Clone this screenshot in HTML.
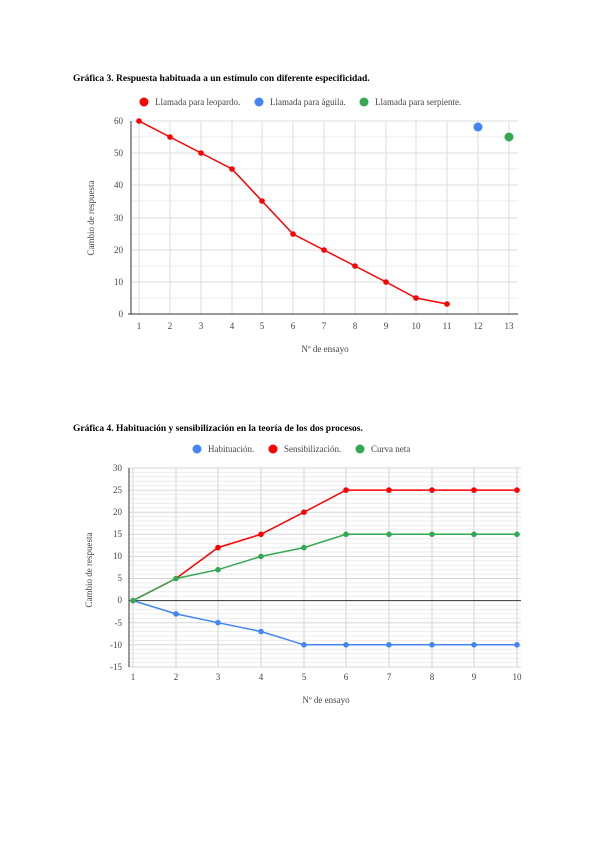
<!DOCTYPE html>
<html><head><meta charset="utf-8"><style>
body{margin:0;background:#fff}
svg{display:block;font-family:"Liberation Serif",serif}
</style></head><body>
<svg width="600" height="848" viewBox="0 0 600 848" xmlns="http://www.w3.org/2000/svg">
<rect width="600" height="848" fill="#fff"/>
<text x="73" y="81" font-size="9.5" font-weight="bold" fill="#000">Gráfica 3. Respuesta habituada a un estímulo con diferente especificidad.</text>
<g font-size="9" fill="#444">
<circle cx="144" cy="102" r="4.5" fill="#f00"/><text x="155" y="105">Llamada para leopardo.</text>
<circle cx="259" cy="102" r="4.5" fill="#4285f4"/><text x="270" y="105">Llamada para águila.</text>
<circle cx="364" cy="102" r="4.5" fill="#34a853"/><text x="375" y="105">Llamada para serpiente.</text>
</g>
<g stroke="#eee" stroke-width="1">
<line x1="131" x2="518" y1="137" y2="137"/><line x1="131" x2="518" y1="169" y2="169"/><line x1="131" x2="518" y1="201" y2="201"/><line x1="131" x2="518" y1="234" y2="234"/><line x1="131" x2="518" y1="266" y2="266"/><line x1="131" x2="518" y1="298" y2="298"/>
</g>
<g stroke="#ddd" stroke-width="1">
<line x1="131" x2="518" y1="121" y2="121"/><line x1="131" x2="518" y1="153" y2="153"/><line x1="131" x2="518" y1="185" y2="185"/><line x1="131" x2="518" y1="218" y2="218"/><line x1="131" x2="518" y1="250" y2="250"/><line x1="131" x2="518" y1="282" y2="282"/>
<line x1="139" x2="139" y1="121" y2="314"/><line x1="170" x2="170" y1="121" y2="314"/><line x1="201" x2="201" y1="121" y2="314"/><line x1="232" x2="232" y1="121" y2="314"/><line x1="262" x2="262" y1="121" y2="314"/><line x1="293" x2="293" y1="121" y2="314"/><line x1="324" x2="324" y1="121" y2="314"/><line x1="355" x2="355" y1="121" y2="314"/><line x1="386" x2="386" y1="121" y2="314"/><line x1="416" x2="416" y1="121" y2="314"/><line x1="447" x2="447" y1="121" y2="314"/><line x1="478" x2="478" y1="121" y2="314"/><line x1="509" x2="509" y1="121" y2="314"/>
</g>
<line x1="131" x2="131" y1="121" y2="314" stroke="#333"/>
<line x1="128" x2="518" y1="314" y2="314" stroke="#333"/>
<g font-size="9" fill="#444" text-anchor="end">
<text x="123" y="124">60</text><text x="123" y="156">50</text><text x="123" y="188">40</text><text x="123" y="221">30</text><text x="123" y="253">20</text><text x="123" y="285">10</text><text x="123" y="317">0</text>
</g>
<g font-size="9" fill="#444" text-anchor="middle">
<text x="139" y="329">1</text><text x="170" y="329">2</text><text x="201" y="329">3</text><text x="232" y="329">4</text><text x="262" y="329">5</text><text x="293" y="329">6</text><text x="324" y="329">7</text><text x="355" y="329">8</text><text x="386" y="329">9</text><text x="416" y="329">10</text><text x="447" y="329">11</text><text x="478" y="329">12</text><text x="509" y="329">13</text>
<text x="325" y="352">Nº de ensayo</text>
<text transform="translate(94,218) rotate(-90)">Cambio de respuesta</text>
</g>
<polyline fill="none" stroke="#f00" stroke-width="1.5" points="139,121 170,137 201,153 232,169 262,201 293,234 324,250 355,266 386,282 416,298 447,304"/>
<g fill="#f00"><circle cx="139" cy="121" r="2.8"/><circle cx="170" cy="137" r="2.8"/><circle cx="201" cy="153" r="2.8"/><circle cx="232" cy="169" r="2.8"/><circle cx="262" cy="201" r="2.8"/><circle cx="293" cy="234" r="2.8"/><circle cx="324" cy="250" r="2.8"/><circle cx="355" cy="266" r="2.8"/><circle cx="386" cy="282" r="2.8"/><circle cx="416" cy="298" r="2.8"/><circle cx="447" cy="304" r="2.8"/></g>
<circle cx="478" cy="127" r="4.5" fill="#4285f4"/>
<circle cx="509" cy="137" r="4.5" fill="#34a853"/>

<text x="73" y="431" font-size="9.5" font-weight="bold" fill="#000">Gráfica 4. Habituación y sensibilización en la teoría de los dos procesos.</text>
<g font-size="9" fill="#444">
<circle cx="197" cy="449" r="4.5" fill="#4285f4"/><text x="208" y="452">Habituación.</text>
<circle cx="273" cy="449" r="4.5" fill="#f00"/><text x="284" y="452">Sensibilización.</text>
<circle cx="360" cy="449" r="4.5" fill="#34a853"/><text x="371" y="452">Curva neta</text>
</g>
<g stroke="#eee" stroke-width="1" id="minor"></g>
<g stroke="#ececec">
<line x1="129" x2="521" y1="472.4" y2="472.4"/><line x1="129" x2="521" y1="476.8" y2="476.8"/><line x1="129" x2="521" y1="481.3" y2="481.3"/><line x1="129" x2="521" y1="485.7" y2="485.7"/>
<line x1="129" x2="521" y1="494.5" y2="494.5"/><line x1="129" x2="521" y1="498.9" y2="498.9"/><line x1="129" x2="521" y1="503.4" y2="503.4"/><line x1="129" x2="521" y1="507.8" y2="507.8"/>
<line x1="129" x2="521" y1="516.6" y2="516.6"/><line x1="129" x2="521" y1="521" y2="521"/><line x1="129" x2="521" y1="525.5" y2="525.5"/><line x1="129" x2="521" y1="529.9" y2="529.9"/>
<line x1="129" x2="521" y1="538.7" y2="538.7"/><line x1="129" x2="521" y1="543.1" y2="543.1"/><line x1="129" x2="521" y1="547.6" y2="547.6"/><line x1="129" x2="521" y1="552" y2="552"/>
<line x1="129" x2="521" y1="560.8" y2="560.8"/><line x1="129" x2="521" y1="565.2" y2="565.2"/><line x1="129" x2="521" y1="569.7" y2="569.7"/><line x1="129" x2="521" y1="574.1" y2="574.1"/>
<line x1="129" x2="521" y1="582.9" y2="582.9"/><line x1="129" x2="521" y1="587.3" y2="587.3"/><line x1="129" x2="521" y1="591.8" y2="591.8"/><line x1="129" x2="521" y1="596.2" y2="596.2"/>
<line x1="129" x2="521" y1="605" y2="605"/><line x1="129" x2="521" y1="609.4" y2="609.4"/><line x1="129" x2="521" y1="613.9" y2="613.9"/><line x1="129" x2="521" y1="618.3" y2="618.3"/>
<line x1="129" x2="521" y1="627.1" y2="627.1"/><line x1="129" x2="521" y1="631.5" y2="631.5"/><line x1="129" x2="521" y1="636" y2="636"/><line x1="129" x2="521" y1="640.4" y2="640.4"/>
<line x1="129" x2="521" y1="649.2" y2="649.2"/><line x1="129" x2="521" y1="653.6" y2="653.6"/><line x1="129" x2="521" y1="658.1" y2="658.1"/><line x1="129" x2="521" y1="662.5" y2="662.5"/>
</g>
<g stroke="#d6d6d6">
<line x1="129" x2="521" y1="468" y2="468"/><line x1="129" x2="521" y1="490.1" y2="490.1"/><line x1="129" x2="521" y1="512.2" y2="512.2"/><line x1="129" x2="521" y1="534.3" y2="534.3"/><line x1="129" x2="521" y1="556.4" y2="556.4"/><line x1="129" x2="521" y1="578.5" y2="578.5"/><line x1="129" x2="521" y1="622.7" y2="622.7"/><line x1="129" x2="521" y1="644.8" y2="644.8"/><line x1="129" x2="521" y1="667" y2="667"/>
<line x1="133" x2="133" y1="468" y2="667"/><line x1="176" x2="176" y1="468" y2="667"/><line x1="218" x2="218" y1="468" y2="667"/><line x1="261" x2="261" y1="468" y2="667"/><line x1="304" x2="304" y1="468" y2="667"/><line x1="346" x2="346" y1="468" y2="667"/><line x1="389" x2="389" y1="468" y2="667"/><line x1="432" x2="432" y1="468" y2="667"/><line x1="474" x2="474" y1="468" y2="667"/><line x1="517" x2="517" y1="468" y2="667"/>
</g>
<line x1="129" x2="521" y1="600.6" y2="600.6" stroke="#333"/>
<line x1="129" x2="129" y1="468" y2="667" stroke="#333"/>
<g font-size="9" fill="#444" text-anchor="end">
<text x="122" y="471">30</text><text x="122" y="493">25</text><text x="122" y="515">20</text><text x="122" y="537">15</text><text x="122" y="559">10</text><text x="122" y="581">5</text><text x="122" y="603">0</text><text x="122" y="626">-5</text><text x="122" y="648">-10</text><text x="122" y="670">-15</text>
</g>
<g font-size="9" fill="#444" text-anchor="middle">
<text x="133" y="680">1</text><text x="176" y="680">2</text><text x="218" y="680">3</text><text x="261" y="680">4</text><text x="304" y="680">5</text><text x="346" y="680">6</text><text x="389" y="680">7</text><text x="432" y="680">8</text><text x="474" y="680">9</text><text x="517" y="680">10</text>
<text x="326" y="703">Nº de ensayo</text>
<text transform="translate(92,570) rotate(-90)">Cambio de respuesta</text>
</g>
<g stroke-width="1.5" fill="none">
<polyline stroke="#4285f4" points="133,600.6 176,613.9 218,622.7 261,631.5 304,644.8 346,644.8 389,644.8 432,644.8 474,644.8 517,644.8"/>
<polyline stroke="#f00" points="133,600.6 176,578.5 218,547.6 261,534.3 304,512.2 346,490.1 389,490.1 432,490.1 474,490.1 517,490.1"/>
<polyline stroke="#34a853" points="133,600.6 176,578.5 218,569.7 261,556.4 304,547.6 346,534.3 389,534.3 432,534.3 474,534.3 517,534.3"/>
</g>
<g fill="#4285f4"><circle cx="176" cy="613.9" r="2.8"/><circle cx="218" cy="622.7" r="2.8"/><circle cx="261" cy="631.5" r="2.8"/><circle cx="304" cy="644.8" r="2.8"/><circle cx="346" cy="644.8" r="2.8"/><circle cx="389" cy="644.8" r="2.8"/><circle cx="432" cy="644.8" r="2.8"/><circle cx="474" cy="644.8" r="2.8"/><circle cx="517" cy="644.8" r="2.8"/></g>
<g fill="#f00"><circle cx="218" cy="547.6" r="2.8"/><circle cx="261" cy="534.3" r="2.8"/><circle cx="304" cy="512.2" r="2.8"/><circle cx="346" cy="490.1" r="2.8"/><circle cx="389" cy="490.1" r="2.8"/><circle cx="432" cy="490.1" r="2.8"/><circle cx="474" cy="490.1" r="2.8"/><circle cx="517" cy="490.1" r="2.8"/></g>
<g fill="#34a853"><circle cx="133" cy="600.6" r="2.8"/><circle cx="176" cy="578.5" r="2.8"/><circle cx="218" cy="569.7" r="2.8"/><circle cx="261" cy="556.4" r="2.8"/><circle cx="304" cy="547.6" r="2.8"/><circle cx="346" cy="534.3" r="2.8"/><circle cx="389" cy="534.3" r="2.8"/><circle cx="432" cy="534.3" r="2.8"/><circle cx="474" cy="534.3" r="2.8"/><circle cx="517" cy="534.3" r="2.8"/></g>
</svg>
</body></html>
